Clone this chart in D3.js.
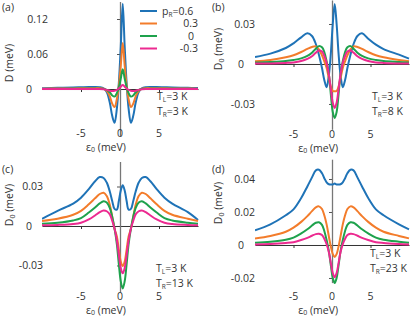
<!DOCTYPE html>
<html><head><meta charset="utf-8">
<script src="https://cdn.jsdelivr.net/npm/d3@7"></script>
<style>
html,body{margin:0;padding:0;background:#fff;}
text{font-family:"Open Sans","Noto Sans",sans-serif;fill:#333;}
</style></head>
<body><svg id="c" width="411" height="318"></svg>
<script>
// energy grid eps0 (meV)
const X = [-10, -8, -6, -5, -4, -3.2, -2.6, -2.1, -1.7, -1.3, -1.0, -0.7, -0.4, -0.15, 0.1, 0.35, 0.6, 0.85, 1.1, 1.4, 1.7, 2.0, 2.4, 2.8, 3.3, 3.9, 4.7, 5.7, 6.7, 8.7, 10];
const seriesNames = ["p_R=0.6", "0.3", "0", "-0.3"];
const legendLabels = ["0.6", "0.3", "0", "-0.3"];
const colors = ["#1f73b7", "#f37c2b", "#1ea24c", "#ec2a90"];

// panel (a) T_L=3K, T_R=3K
const aBlue = [0.0015, 0.002, 0.0026, 0.003, 0.0033, 0.0035, 0.003, 0.001, -0.005, -0.024, -0.046, -0.058, -0.033, 0.010, 0.073, 0.146, 0.073, 0.010, -0.033, -0.058, -0.046, -0.024, -0.005, 0.001, 0.003, 0.0035, 0.0033, 0.003, 0.0026, 0.002, 0.0016];
const aOrange = [0.0006, 0.0008, 0.001, 0.0013, 0.0015, 0.0015, 0.0015, 0.0005, -0.003, -0.013, -0.025, -0.031, -0.017, 0.006, 0.040, 0.079, 0.040, 0.006, -0.017, -0.031, -0.025, -0.013, -0.003, 0.0005, 0.0015, 0.0015, 0.0015, 0.0013, 0.001, 0.0008, 0.0006];
const aGreen = [0.0002, 0.0002, 0.0003, 0.0004, 0.0005, 0.0005, 0.0005, 0, -0.0015, -0.006, -0.011, -0.013, -0.007, 0.003, 0.018, 0.034, 0.018, 0.003, -0.007, -0.013, -0.011, -0.006, -0.0015, 0, 0.0005, 0.0005, 0.0005, 0.0004, 0.0003, 0.0002, 0.0002];
const aPink = [0, 0, 0, 0, 0, 0, 0, -0.0005, -0.0015, -0.003, -0.0035, -0.003, -0.0015, 0.001, 0.004, 0.007, 0.004, 0.001, -0.0015, -0.003, -0.0035, -0.003, -0.0015, -0.0005, 0, 0, 0, 0, 0, 0, 0];

// panel (b) T_L=3K, T_R=8K
const bBlue = [0.0052, 0.0078, 0.012, 0.0155, 0.020, 0.023, 0.021, 0.015, 0.007, -0.003, -0.012, -0.0175, -0.008, 0.008, 0.030, 0.045, 0.030, 0.008, -0.008, -0.0175, -0.012, -0.003, 0.007, 0.015, 0.021, 0.023, 0.019, 0.0145, 0.0112, 0.007, 0.004];
const bOrange = [0.002, 0.003, 0.005, 0.0065, 0.009, 0.0113, 0.0128, 0.0132, 0.011, 0.0065, 0.002, -0.003, -0.011, -0.017, -0.0202, -0.0205, -0.0202, -0.017, -0.011, -0.003, 0.002, 0.0065, 0.011, 0.0132, 0.0128, 0.0113, 0.009, 0.0065, 0.005, 0.003, 0.002];
const bGreen = [0.0011, 0.0015, 0.0022, 0.003, 0.0042, 0.006, 0.0085, 0.0115, 0.0134, 0.0125, 0.009, 0.002, -0.008, -0.023, -0.036, -0.0405, -0.036, -0.023, -0.008, 0.002, 0.009, 0.0125, 0.0134, 0.0115, 0.0085, 0.006, 0.0042, 0.003, 0.0022, 0.0015, 0.0011];
const bPink = [0.0003, 0.0004, 0.0008, 0.0012, 0.0022, 0.0038, 0.0058, 0.0085, 0.0101, 0.0093, 0.006, 0.001, -0.008, -0.019, -0.029, -0.033, -0.029, -0.019, -0.008, 0.001, 0.006, 0.0093, 0.0101, 0.0085, 0.0058, 0.0038, 0.0022, 0.0012, 0.0008, 0.0004, 0.0003];

// panel (c) T_L=3K, T_R=13K
const cBlue = [0.0055, 0.0115, 0.017, 0.0215, 0.028, 0.034, 0.0372, 0.0365, 0.033, 0.026, 0.019, 0.013, 0.0125, 0.019, 0.027, 0.031, 0.027, 0.019, 0.0125, 0.013, 0.019, 0.026, 0.033, 0.0365, 0.0372, 0.034, 0.028, 0.0215, 0.017, 0.0105, 0.0045];
const cOrange = [0.0038, 0.0055, 0.0085, 0.0115, 0.0165, 0.021, 0.0243, 0.0253, 0.0228, 0.016, 0.007, -0.002, -0.008, -0.018, -0.027, -0.0304, -0.027, -0.018, -0.008, -0.002, 0.007, 0.016, 0.0228, 0.0253, 0.0243, 0.021, 0.0165, 0.0115, 0.0085, 0.0055, 0.0038];
const cGreen = [0.0017, 0.0025, 0.0042, 0.006, 0.0102, 0.014, 0.0172, 0.0188, 0.0178, 0.0135, 0.007, -0.002, -0.014, -0.029, -0.042, -0.0474, -0.042, -0.029, -0.014, -0.002, 0.007, 0.0135, 0.0178, 0.0188, 0.0172, 0.014, 0.0102, 0.006, 0.0042, 0.0025, 0.0017];
const cPink = [0.0005, 0.0008, 0.0015, 0.0025, 0.005, 0.008, 0.0105, 0.0118, 0.0112, 0.0088, 0.004, -0.002, -0.011, -0.022, -0.032, -0.036, -0.032, -0.022, -0.011, -0.002, 0.004, 0.0088, 0.0112, 0.0118, 0.0105, 0.008, 0.005, 0.0025, 0.0015, 0.0008, 0.0005];

// panel (d) T_L=3K, T_R=23K
const dBlue = [0.0089, 0.0125, 0.018, 0.0216, 0.0285, 0.0355, 0.041, 0.0452, 0.0456, 0.0435, 0.0405, 0.038, 0.0368, 0.0366, 0.0367, 0.0372, 0.0367, 0.0366, 0.0368, 0.038, 0.0405, 0.0435, 0.0456, 0.0452, 0.041, 0.0355, 0.0285, 0.0216, 0.018, 0.0125, 0.0095];
const dOrange = [0.004, 0.0055, 0.008, 0.0105, 0.014, 0.0175, 0.0205, 0.0228, 0.0234, 0.0218, 0.018, 0.0125, 0.005, -0.001, -0.0055, -0.0073, -0.0055, -0.001, 0.005, 0.0125, 0.018, 0.0218, 0.0234, 0.0228, 0.0205, 0.0175, 0.014, 0.0105, 0.008, 0.0055, 0.004];
const dGreen = [0.0014, 0.002, 0.0032, 0.0045, 0.007, 0.0095, 0.0118, 0.0135, 0.0138, 0.0122, 0.0085, 0.003, -0.004, -0.0125, -0.020, -0.023, -0.020, -0.0125, -0.004, 0.003, 0.0085, 0.0122, 0.0138, 0.0135, 0.0118, 0.0095, 0.007, 0.0045, 0.0032, 0.002, 0.0014];
const dPink = [0.0003, 0.0006, 0.0012, 0.0017, 0.003, 0.0043, 0.0056, 0.0066, 0.0068, 0.006, 0.0038, 0.0005, -0.0045, -0.011, -0.017, -0.0195, -0.017, -0.011, -0.0045, 0.0005, 0.0038, 0.006, 0.0068, 0.0066, 0.0056, 0.0043, 0.003, 0.0017, 0.0012, 0.0006, 0.0003];

const xTicks = [-5, 0, 5];
const yTicksA = [0, 0.06, 0.12], yTickLabelsA = ["0", "0.06", "0.12"];
const yTicksB = [-0.03, 0, 0.03], yTickLabelsB = ["-0.03", "0", "0.03"];
const yTicksC = [-0.03, 0, 0.03], yTickLabelsC = ["-0.03", "0", "0.03"];
const yTicksD = [-0.02, 0, 0.02, 0.04], yTickLabelsD = ["-0.02", "0", "0.02", "0.04"];
const TR = ["3", "8", "13", "23"];

const panels = [
  {tag:"(a)", sub:"", series:[aBlue,aOrange,aGreen,aPink], yt:yTicksA, ytl:yTickLabelsA, tr:TR[0],
   xr:[42,198], yd:[-0.08,0.15], yr:[135.7,1.5], tagPos:[2,11], ylab:[9,63], ytl0:26, ytlR:48, xtlY:136.5, xlabY:150.5, tPos:[157,100], legend:true},
  {tag:"(b)", sub:"0", series:[bBlue,bOrange,bGreen,bPink], yt:yTicksB, ytl:yTickLabelsB, tr:TR[1],
   xr:[255,409], yd:[-0.049,0.048], yr:[129.3,0], tagPos:[212,11], ylab:[218,49], ytl0:238, ytlR:255, xtlY:137.5, xlabY:151.5, tPos:[372,100]},
  {tag:"(c)", sub:"0", series:[cBlue,cOrange,cGreen,cPink], yt:yTicksC, ytl:yTickLabelsC, tr:TR[2],
   xr:[42,198], yd:[-0.05,0.049], yr:[291.8,161.5], tagPos:[2,173], ylab:[9,205], ytl0:26, ytlR:43, xtlY:299.5, xlabY:313.5, tPos:[156,272]},
  {tag:"(d)", sub:"0", series:[dBlue,dOrange,dGreen,dPink], yt:yTicksD, ytl:yTickLabelsD, tr:TR[3],
   xr:[255,409], yd:[-0.0228,0.052], yr:[282.6,159.2], tagPos:[212,173], ylab:[218,203], ytl0:238, ytlR:255, xtlY:299.5, xlabY:313.5, tPos:[370,257]}
];

const svg = d3.select("#c");
const FS = 10.5;

panels.forEach((p, pi) => {
  const x = d3.scaleLinear().domain([-10, 10]).range(p.xr);
  const y = d3.scaleLinear().domain(p.yd).range(p.yr);
  const g = svg.append("g");
  const clipId = "clip" + pi;
  svg.append("clipPath").attr("id", clipId).append("rect")
    .attr("x", p.xr[0]).attr("y", p.yr[1] - 3).attr("width", p.xr[1] - p.xr[0] + 2).attr("height", p.yr[0] - p.yr[1] + 6);

  // horizontal zero axis
  const xa = g.append("g").attr("transform", `translate(0,${y(0)})`)
    .call(d3.axisBottom(x).tickValues([-5, 5]).tickSize(3).tickSizeOuter(0).tickFormat(""));
  xa.select(".domain").attr("stroke", "#333").attr("stroke-width", 1);
  xa.selectAll(".tick line").attr("stroke", "#333");

  // vertical axis at eps0 = 0
  const ya = g.append("g").attr("transform", `translate(${x(0)},0)`)
    .call(d3.axisLeft(y).tickValues(p.yt.filter(v => v !== 0)).tickSize(3).tickSizeOuter(0).tickFormat(""));
  ya.select(".domain").attr("stroke", "#777").attr("stroke-width", 1.3);
  ya.selectAll(".tick line").attr("stroke", "#555");

  // curves
  const line = d3.line().x((d, i) => x(X[i])).y(d => y(d)).curve(d3.curveCatmullRom.alpha(0.5));
  const cg = g.append("g").attr("clip-path", `url(#${clipId})`);
  p.series.forEach((s, si) => {
    cg.append("path").datum(s).attr("d", line).attr("fill", "none")
      .attr("stroke", colors[si]).attr("stroke-width", 2).attr("stroke-linejoin", "round");
  });

  // y tick labels
  p.yt.forEach((v, i) => {
    const t = g.append("text").attr("y", y(v)).attr("dy", "0.35em").attr("font-size", FS).text(p.ytl[i]);
    if (v === 0) t.attr("x", p.ytl0).attr("text-anchor", "start");
    else t.attr("x", p.ytlR).attr("text-anchor", "end");
  });
  // x tick labels
  xTicks.forEach(v => {
    g.append("text").attr("x", x(v)).attr("y", p.xtlY).attr("text-anchor", "middle")
      .attr("font-size", FS).text(v === -5 ? "-5" : String(v));
  });
  // x label
  const xl = g.append("text").attr("x", x(-1.8)).attr("y", p.xlabY).attr("text-anchor", "middle").attr("font-size", FS);
  xl.append("tspan").text("ε");
  xl.append("tspan").attr("font-size", 7).attr("dy", 1.5).text("0");
  xl.append("tspan").attr("dy", -1.5).text(" (meV)");
  // y label
  const yl = g.append("text").attr("transform", `translate(${p.ylab[0] + 4},${p.ylab[1]}) rotate(-90)`)
    .attr("text-anchor", "middle").attr("font-size", FS);
  yl.append("tspan").text("D");
  if (p.sub) {
    yl.append("tspan").attr("font-size", 7).attr("dy", 2).text(p.sub);
    yl.append("tspan").attr("dy", -2).text(" (meV)");
  } else yl.append("tspan").text(" (meV)");
  // panel tag
  g.append("text").attr("x", p.tagPos[0]).attr("y", p.tagPos[1]).attr("font-size", FS).text(p.tag);
  // temperatures
  const t1 = g.append("text").attr("x", p.tPos[0]).attr("y", p.tPos[1]).attr("font-size", FS);
  t1.append("tspan").text("T");
  t1.append("tspan").attr("font-size", 6.5).attr("dy", 1.5).text("L");
  t1.append("tspan").attr("dy", -1.5).text("=3 K");
  const t2 = g.append("text").attr("x", p.tPos[0]).attr("y", p.tPos[1] + 15).attr("font-size", FS);
  t2.append("tspan").text("T");
  t2.append("tspan").attr("font-size", 6.5).attr("dy", 1.5).text("R");
  t2.append("tspan").attr("dy", -1.5).text("=" + p.tr + " K");

  if (p.legend) {
    const lg = g.append("g");
    const rows = [11, 23.5, 36, 48.5];
    legendLabels.forEach((lab, i) => {
      lg.append("line").attr("x1", 140).attr("x2", 157).attr("y1", rows[i]).attr("y2", rows[i])
        .attr("stroke", colors[i]).attr("stroke-width", 2);
      if (i === 0) {
        const tt = lg.append("text").attr("x", 162).attr("y", rows[i]).attr("dy", "0.35em").attr("font-size", FS);
        tt.append("tspan").text("p");
        tt.append("tspan").attr("font-size", 6.5).attr("dy", 2).text("R");
        tt.append("tspan").attr("dy", -2).text("=" + lab);
      } else {
        lg.append("text").attr("x", lab === "0" ? 194 : 198).attr("y", rows[i]).attr("dy", "0.35em")
          .attr("text-anchor", "end").attr("font-size", FS).text(lab);
      }
    });
  }
});
</script></body></html>
